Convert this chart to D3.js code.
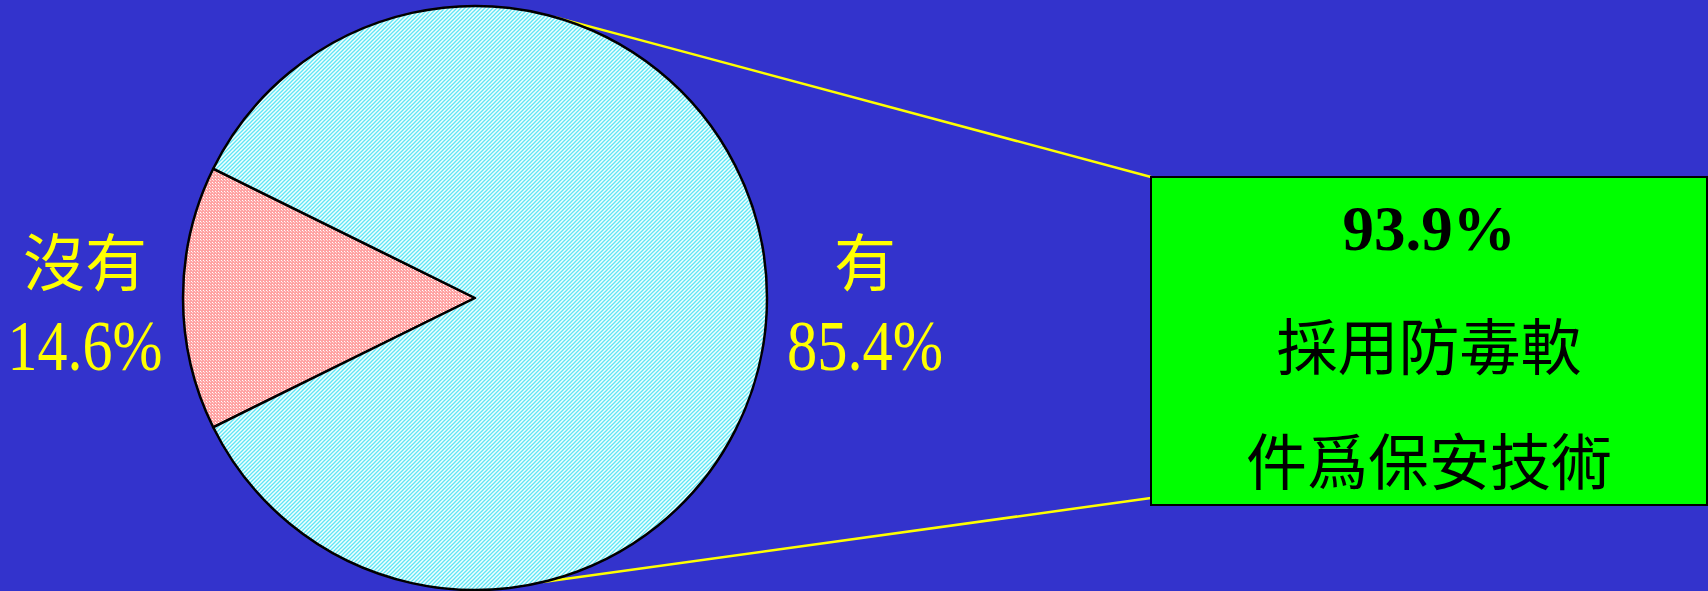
<!DOCTYPE html>
<html><head><meta charset="utf-8">
<script src="https://cdn.jsdelivr.net/npm/d3@7"></script>
<style>html,body{margin:0;padding:0;background:#3333cc;overflow:hidden}</style>
</head><body>
<svg id="chart" width="1708" height="591"></svg>
<script>
// ---- data ----
const categories = ["沒有", "有"];
const values = [14.6, 85.4];
const valueLabels = ["14.6%", "85.4%"];
const calloutValue = "93.9%";
const calloutLines = ["採用防毒軟", "件爲保安技術"];

// ---- layout ----
const W = 1708, H = 591;
const cx = 475, cy = 298, R = 292;
const svg = d3.select("#chart");
svg.append("rect").attr("width", W).attr("height", H).attr("fill", "#3333cc");

const defs = svg.append("defs");
// cyan hatch pattern
const pc = defs.append("pattern").attr("id", "pCyan").attr("patternUnits", "userSpaceOnUse")
  .attr("width", 4).attr("height", 4);
pc.append("rect").attr("width", 4).attr("height", 4).attr("fill", "#f0ffff");
pc.append("path").attr("d", "M0,4 L4,0 M-1,1 L1,-1 M3,5 L5,3").attr("stroke", "#5fe6f5").attr("stroke-width", 1.3);
// pink grid pattern
const pp = defs.append("pattern").attr("id", "pPink").attr("patternUnits", "userSpaceOnUse")
  .attr("width", 3).attr("height", 3);
pp.append("rect").attr("width", 3).attr("height", 3).attr("fill", "#ffa3a3");
pp.append("rect").attr("x", 1).attr("y", 1).attr("width", 1).attr("height", 1).attr("fill", "#ffffff");
pp.append("rect").attr("x", 2).attr("y", 2).attr("width", 1).attr("height", 1).attr("fill", "#ffd6d6");

const fills = ["url(#pPink)", "url(#pCyan)"];

const total = d3.sum(values);
const start = 1.5 * Math.PI - (values[0] / total) * Math.PI;
const pie = d3.pie().sort(null).startAngle(start).endAngle(start + 2 * Math.PI);
const arcs = pie(values);
const arc = d3.arc().innerRadius(0).outerRadius(R);

// callout lines (drawn under the pie)
const box = {x: 1151, y: 177, w: 556, h: 328};
const angTop = 0.28, angBot = Math.PI - 0.235; // points on circle (d3 angle convention)
const pt = a => [cx + R * Math.sin(a), cy - R * Math.cos(a)];
const pTop = pt(angTop), pBot = pt(angBot);
svg.append("line").attr("x1", pTop[0]).attr("y1", pTop[1]).attr("x2", box.x).attr("y2", box.y)
  .attr("stroke", "#ffff00").attr("stroke-width", 2.5);
svg.append("line").attr("x1", pBot[0]).attr("y1", pBot[1]).attr("x2", box.x).attr("y2", box.y + 321)
  .attr("stroke", "#ffff00").attr("stroke-width", 2.5);

const g = svg.append("g").attr("transform", `translate(${cx},${cy})`);
g.selectAll("path").data(arcs).join("path")
  .attr("d", arc)
  .attr("fill", (d, i) => fills[i])
  .attr("stroke", "#000").attr("stroke-width", 2.5).attr("stroke-linejoin", "round");

// slice labels
const labelPos = [{x: 85, y1: 286, y2: 370, len: 155}, {x: 865, y1: 286, y2: 370, len: 156}];
categories.forEach((c, i) => {
  const p = labelPos[i];
  svg.append("text").attr("x", p.x).attr("y", p.y1).attr("text-anchor", "middle")
    .attr("font-family", "'Noto Sans CJK TC'").attr("font-size", 62).attr("fill", "#ffff00").text(c);
  svg.append("text").attr("x", p.x).attr("y", p.y2).attr("text-anchor", "middle")
    .attr("font-family", "'Liberation Serif','Times New Roman',serif").attr("font-size", 72)
    .attr("textLength", p.len).attr("lengthAdjust", "spacingAndGlyphs")
    .attr("fill", "#ffff00").text(valueLabels[i]);
});

// callout box
svg.append("rect").attr("x", box.x).attr("y", box.y).attr("width", box.w).attr("height", box.h)
  .attr("fill", "#00ff00").attr("stroke", "#000").attr("stroke-width", 2);
const bx = box.x + box.w / 2;
svg.append("text").attr("x", bx).attr("y", 250).attr("text-anchor", "middle")
  .attr("font-family", "'Liberation Serif','Times New Roman',serif").attr("font-weight", "bold")
  .attr("font-size", 63).attr("fill", "#000").text(calloutValue);
const lineY = [370, 485];
calloutLines.forEach((t, i) => {
  svg.append("text").attr("x", bx).attr("y", lineY[i]).attr("text-anchor", "middle")
    .attr("font-family", "'Noto Sans CJK TC'").attr("font-size", 61).attr("fill", "#000").text(t);
});
</script>
</body></html>
